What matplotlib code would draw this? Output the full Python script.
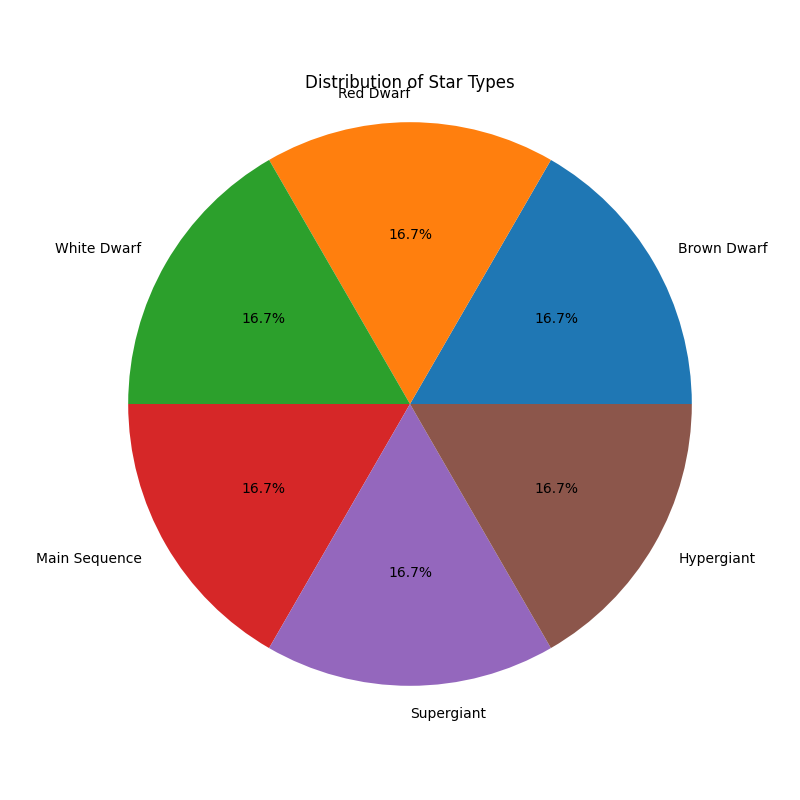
import matplotlib
matplotlib.use("Agg")
import matplotlib.pyplot as plt

star_types = ['Brown Dwarf', 'Red Dwarf', 'White Dwarf', 'Main Sequence', 'Supergiant', 'Hypergiant']
counts = [1, 1, 1, 1, 1, 1]


def main():
    plt.figure(figsize=(8, 8))
    plt.pie(counts, labels=star_types, autopct='%1.1f%%')
    plt.title('Distribution of Star Types')
    plt.axis('equal')
    plt.savefig('out.png', dpi=100)


if __name__ == "__main__":
    main()
